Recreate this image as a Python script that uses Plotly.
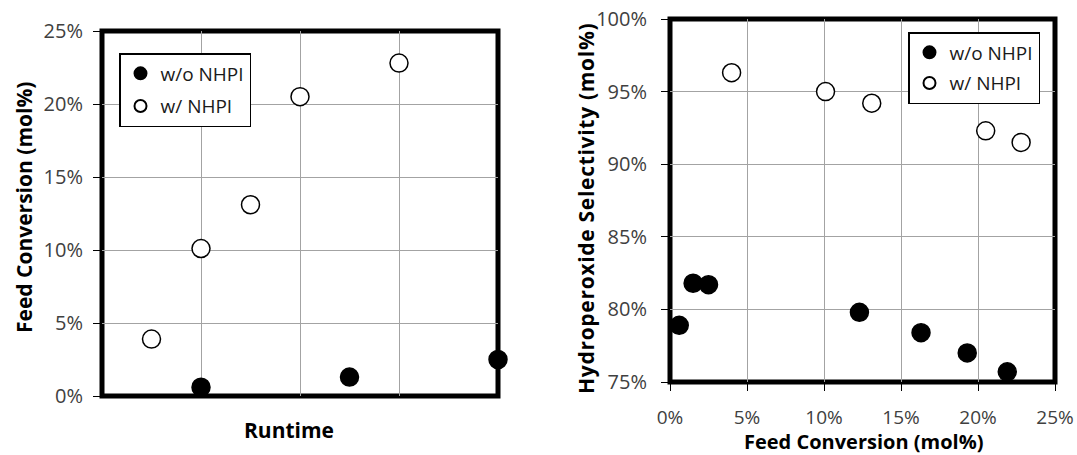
import plotly.graph_objects as go

# ---- data ----
runtime_wo = [1.0, 2.5, 4.0]
conv_wo = [0.6, 1.3, 2.5]
runtime_w = [0.5, 1.0, 1.5, 2.0, 3.0]
conv_w = [3.9, 10.1, 13.1, 20.5, 22.8]

sel_x_wo = [0.6, 1.5, 2.5, 12.3, 16.3, 19.3, 21.9]
sel_y_wo = [78.9, 81.8, 81.7, 79.8, 78.4, 77.0, 75.7]
sel_x_w = [4.0, 10.1, 13.1, 20.5, 22.8]
sel_y_w = [96.3, 95.0, 94.2, 92.3, 91.5]

label_wo = "w/o NHPI"
label_w = "w/ NHPI"
left_y_ticks = [0, 5, 10, 15, 20, 25]
right_x_ticks = [0, 5, 10, 15, 20, 25]
right_y_ticks = [75, 80, 85, 90, 95, 100]

W, H = 1077, 455
FONT = "Open Sans"
TICK_COLOR = "#404040"
GRID = "#a3a3a3"


def px_x(p):
    return p / W


def px_y(p):
    return 1 - p / H


def pct(vals):
    return [f"{v}%" for v in vals]


closed = dict(size=18, color="black", line=dict(color="black", width=1.5))
opened = dict(size=18, color="white", line=dict(color="black", width=1.5))

fig = go.Figure()
fig.add_trace(go.Scatter(x=runtime_wo, y=conv_wo, mode="markers", name=label_wo,
                         marker=closed, xaxis="x", yaxis="y", legend="legend",
                         legendgroup="a", cliponaxis=False))
fig.add_trace(go.Scatter(x=runtime_w, y=conv_w, mode="markers", name=label_w,
                         marker=opened, xaxis="x", yaxis="y", legend="legend",
                         legendgroup="b", cliponaxis=False))
fig.add_trace(go.Scatter(x=sel_x_wo, y=sel_y_wo, mode="markers", name=label_wo,
                         marker=closed, xaxis="x2", yaxis="y2", legend="legend2",
                         legendgroup="c", cliponaxis=False))
fig.add_trace(go.Scatter(x=sel_x_w, y=sel_y_w, mode="markers", name=label_w,
                         marker=opened, xaxis="x2", yaxis="y2", legend="legend2",
                         legendgroup="d", cliponaxis=False))

tickfont = dict(family=FONT, size=20, color=TICK_COLOR)
common = dict(showgrid=True, gridcolor=GRID, gridwidth=1, zeroline=False,
              showline=False, layer="below traces", automargin=False,
              ticklen=8, tickwidth=1, tickcolor="black", tickfont=tickfont)

legend_common = dict(font=dict(family=FONT, size=19, color="#1a1a1a"),
                     bgcolor="white", bordercolor="black", borderwidth=1.5,
                     xanchor="left", yanchor="top", itemsizing="constant")

fig.update_layout(
    width=W, height=H,
    margin=dict(l=0, r=0, t=0, b=0),
    paper_bgcolor="white", plot_bgcolor="white",
    showlegend=True,
    xaxis=dict(domain=[px_x(102), px_x(498)], range=[0, 4], tickvals=[1, 2, 3],
               showticklabels=False, ticks="", anchor="y", **common),
    yaxis=dict(domain=[px_y(396), px_y(31)], range=[0, 25], tickvals=left_y_ticks,
               ticktext=pct(left_y_ticks), ticks="outside", anchor="x",
               ticklabelstandoff=6, **common),
    xaxis2=dict(domain=[px_x(670), px_x(1055)], range=[0, 25], tickvals=right_x_ticks,
                ticktext=pct(right_x_ticks), ticks="outside", anchor="y2",
                ticklabelstandoff=10, **common),
    yaxis2=dict(domain=[px_y(382), px_y(19)], range=[75, 100], tickvals=right_y_ticks,
                ticktext=pct(right_y_ticks), ticks="outside", anchor="x2",
                ticklabelstandoff=10, **common),
    legend=dict(x=px_x(119), y=px_y(53), tracegroupgap=5, **legend_common),
    legend2=dict(x=px_x(908), y=px_y(32), tracegroupgap=3, **legend_common),
)
fig.update_xaxes(tickfont_size=19, selector=dict(anchor="y2"))

# thick plot-area borders
for xr, yr in (("x domain", "y domain"), ("x2 domain", "y2 domain")):
    fig.add_shape(type="rect", xref=xr, yref=yr, x0=0, x1=1, y0=0, y1=1,
                  line=dict(color="black", width=5), layer="below")

title_font = dict(family=FONT, size=21, color="black", weight="bold")
fig.add_annotation(text="Runtime", xref="paper", yref="paper",
                   x=px_x(289), y=px_y(430), showarrow=False, font=title_font,
                   xanchor="center", yanchor="middle")
fig.add_annotation(text="Feed Conversion (mol%)", xref="paper", yref="paper",
                   x=px_x(24), y=px_y(208), showarrow=False, font=title_font,
                   textangle=-90, xanchor="center", yanchor="middle")
fig.add_annotation(text="Feed Conversion (mol%)", xref="paper", yref="paper",
                   x=px_x(863), y=px_y(441), showarrow=False,
                   font=dict(family=FONT, size=20, color="black", weight="bold"),
                   xanchor="center", yanchor="middle")
fig.add_annotation(text='<span style="letter-spacing:0.7px">Hydroperoxide Selectivity (mol%)</span>',
                   xref="paper", yref="paper",
                   x=px_x(586), y=px_y(209), showarrow=False, font=title_font,
                   textangle=-90, xanchor="center", yanchor="middle")

fig.write_html("out.html", config={"displayModeBar": False},
               post_script="document.body.style.margin='0';")
